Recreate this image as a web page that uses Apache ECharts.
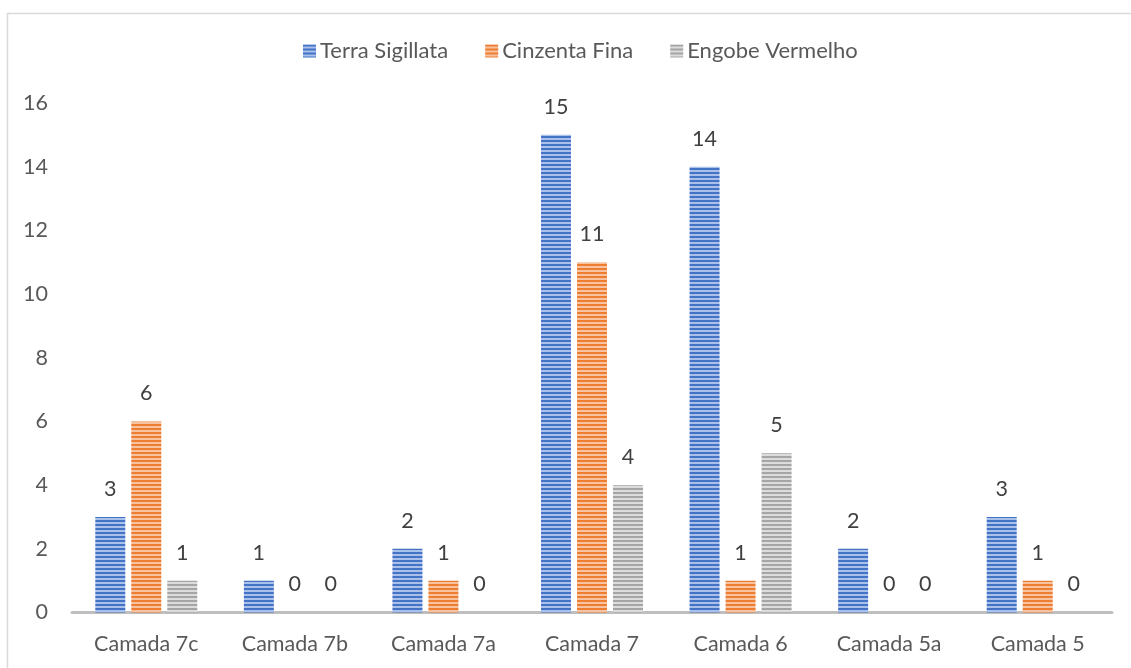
<!DOCTYPE html>
<html>
<head>
<meta charset="utf-8">
<script src="https://cdn.jsdelivr.net/npm/echarts@6/dist/echarts.min.js"></script>
<style>
  html, body { margin: 0; padding: 0; background: #fff; }
  #chart { width: 1131px; height: 668px; }
</style>
</head>
<body>
<div id="chart"></div>
<script>
// Categories and counts per ceramic type
const categories = ['Camada 7c', 'Camada 7b', 'Camada 7a', 'Camada 7', 'Camada 6', 'Camada 5a', 'Camada 5'];
const terraSigillata = [3, 1, 2, 15, 14, 2, 3];
const cinzentaFina = [6, 0, 1, 11, 1, 0, 1];
const engobeVermelho = [1, 0, 0, 4, 5, 0, 0];
const seriesNames = ['Terra Sigillata', 'Cinzenta Fina', 'Engobe Vermelho'];
const yTicks = { min: 0, max: 16, interval: 2 };

const FONT = 'Lato, "Open Sans", sans-serif';

// Horizontal striped fill: dark band + lighter band
function stripes(dark, light) {
  const c = document.createElement('canvas');
  c.width = 4; c.height = 4;
  const g = c.getContext('2d');
  g.fillStyle = light; g.fillRect(0, 0, 4, 4);
  g.fillStyle = dark; g.fillRect(0, 0, 4, 2);
  return { image: c, repeat: 'repeat' };
}

const fills = [
  stripes('#4472C4', '#A9C0EA'),
  stripes('#ED7D31', '#F7C2A0'),
  stripes('#A5A5A5', '#DCDCDC')
];
const values = [terraSigillata, cinzentaFina, engobeVermelho];

const chart = echarts.init(document.getElementById('chart'), null, { renderer: 'canvas' });

chart.setOption({
  animation: false,
  backgroundColor: '#fff',
  graphic: [{
    type: 'rect',
    shape: { x: 7.5, y: 13.5, width: 1200, height: 700 },
    style: { fill: 'none', stroke: '#D9D9D9', lineWidth: 1.5 },
    z: 0
  }],
  legend: {
    top: 35,
    left: 298,
    itemWidth: 13,
    itemHeight: 13,
    itemGap: 37,
    icon: 'rect',
    textStyle: { color: '#595959', fontSize: 22, fontFamily: FONT, padding: [0, 0, 0, -1] },
    data: seriesNames
  },
  grid: { left: 72, right: 19, top: 103, bottom: 55.5, containLabel: false },
  xAxis: {
    type: 'category',
    data: categories,
    axisLine: { lineStyle: { color: '#BFBFBF', width: 3 } },
    axisTick: { show: false },
    axisLabel: { color: '#595959', fontSize: 21.5, fontFamily: FONT, margin: 21 }
  },
  yAxis: {
    type: 'value',
    min: yTicks.min, max: yTicks.max, interval: yTicks.interval,
    splitLine: { show: false },
    axisLine: { show: false },
    axisTick: { show: false },
    axisLabel: { color: '#595959', fontSize: 21.5, fontFamily: FONT, margin: 24 }
  },
  series: seriesNames.map((name, i) => ({
    name,
    type: 'bar',
    data: values[i],
    barWidth: 30,
    barGap: '20%',
    itemStyle: { color: fills[i] },
    label: {
      show: true,
      position: 'top',
      distance: 17,
      color: '#404040',
      fontSize: 21.5,
      fontFamily: FONT
    }
  }))
});
</script>
</body>
</html>
